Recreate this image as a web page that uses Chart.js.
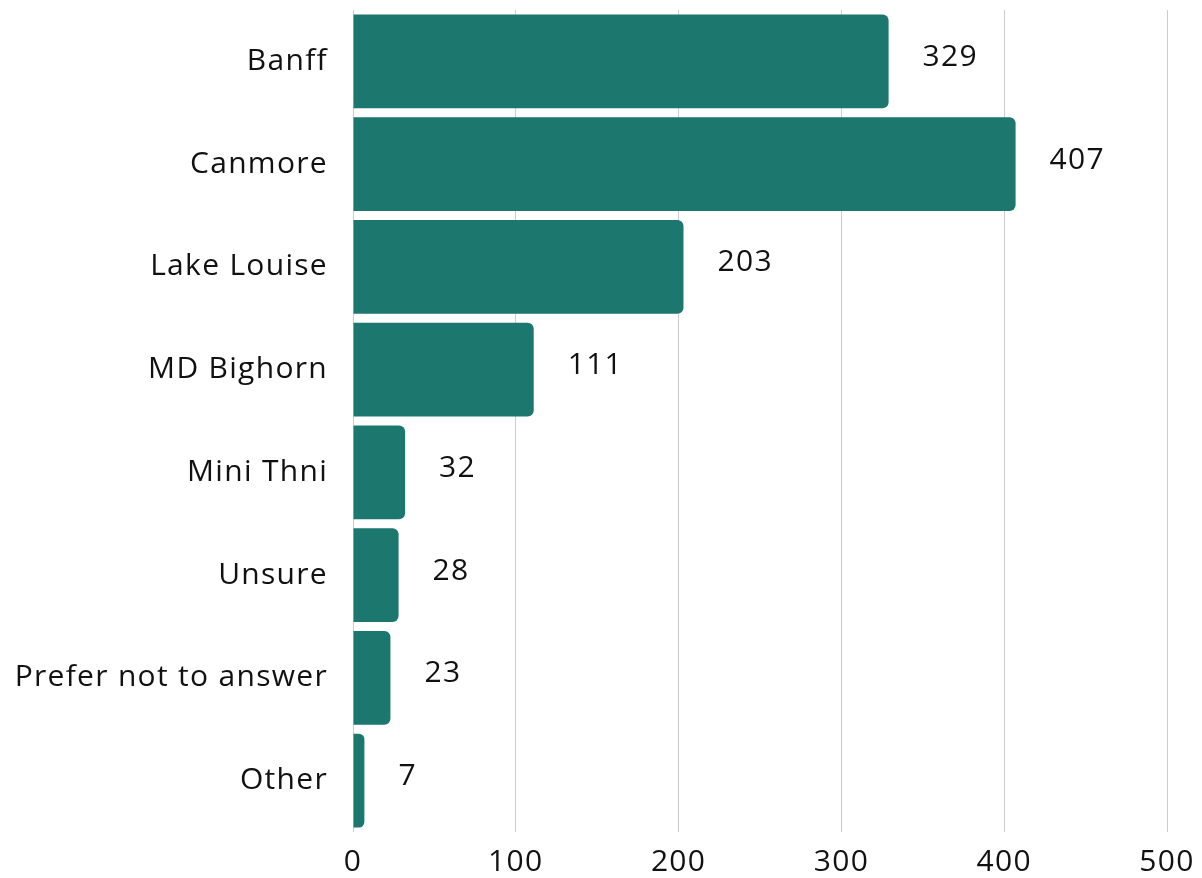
<!DOCTYPE html>
<html>
<head>
<meta charset="utf-8">
<script src="https://cdn.jsdelivr.net/npm/chart.js@4/dist/chart.umd.min.js"></script>
<style>
  html, body { margin: 0; padding: 0; background: #ffffff; }
  #wrap { width: 1202px; height: 878px; }
</style>
</head>
<body>
<div id="wrap"><canvas id="chart" width="1202" height="878"></canvas></div>
<script>
// Responses by community
const categories = ["Banff", "Canmore", "Lake Louise", "MD Bighorn", "Mini Thni", "Unsure", "Prefer not to answer", "Other"];
const counts = [329, 407, 203, 111, 32, 28, 23, 7];
const xTicks = [0, 100, 200, 300, 400, 500];

const FONT = "'Open Sans', 'DejaVu Sans', sans-serif";
const BAR_COLOR = "#1c786e";
const TEXT_COLOR = "#111111";

// Slightly open letter spacing for all canvas text
const spacing = {
  id: "spacing",
  beforeLayout(chart) { chart.ctx.letterSpacing = "1.3px"; },
  beforeDraw(chart) { chart.ctx.letterSpacing = "1.3px"; }
};

// Writes each count just past the end of its bar
const valueLabels = {
  id: "valueLabels",
  afterDatasetsDraw(chart) {
    const ctx = chart.ctx;
    const meta = chart.getDatasetMeta(0);
    ctx.save();
    ctx.font = "30px " + FONT;
    ctx.fillStyle = TEXT_COLOR;
    ctx.textAlign = "left";
    ctx.textBaseline = "middle";
    meta.data.forEach((bar, i) => {
      ctx.fillText(String(counts[i]), bar.x + 34, bar.y - 4);
    });
    ctx.restore();
  }
};

new Chart(document.getElementById("chart"), {
  type: "bar",
  data: {
    labels: categories,
    datasets: [{
      data: counts,
      backgroundColor: BAR_COLOR,
      borderWidth: 0,
      borderRadius: { topLeft: 0, bottomLeft: 0, topRight: 6, bottomRight: 6 },
      borderSkipped: false,
      barPercentage: 1,
      categoryPercentage: 0.912
    }]
  },
  options: {
    indexAxis: "y",
    responsive: false,
    animation: false,
    devicePixelRatio: 1,
    layout: { padding: { top: 10, right: 35, bottom: 0, left: 0 } },
    plugins: {
      legend: { display: false },
      tooltip: { enabled: false }
    },
    scales: {
      x: {
        min: 0,
        max: 500,
        afterBuildTicks(scale) {
          scale.ticks = xTicks.map(v => ({ value: v }));
        },
        afterFit(scale) {
          scale.height = 46;
          scale.paddingLeft = 0;
          scale.paddingRight = 0;
        },
        grid: { color: "#cccccc", lineWidth: 1, drawTicks: false },
        border: { display: false },
        ticks: {
          padding: 12,
          color: TEXT_COLOR,
          font: { family: FONT, size: 30 }
        }
      },
      y: {
        afterFit(scale) {
          scale.width = 353;
          scale.paddingTop = 0;
          scale.paddingBottom = 0;
        },
        grid: { display: false },
        border: { display: false },
        ticks: {
          padding: 17,
          color: TEXT_COLOR,
          font: { family: FONT, size: 30 }
        }
      }
    }
  },
  plugins: [spacing, valueLabels]
});
</script>
</body>
</html>
